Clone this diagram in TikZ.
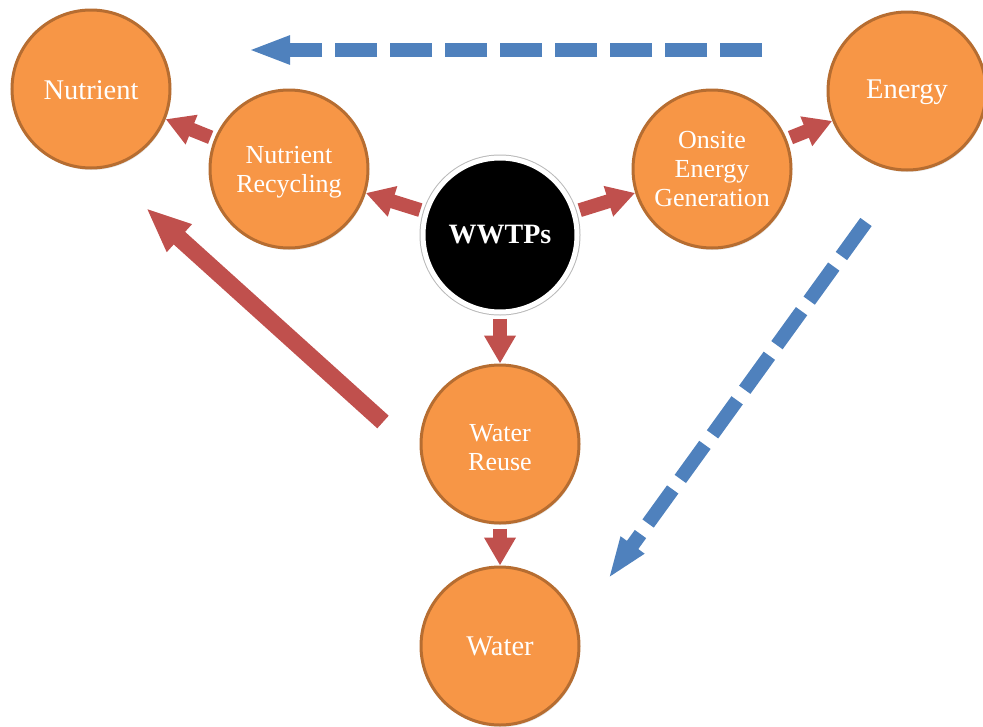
\documentclass[tikz,border=0pt]{standalone}
\usepackage{fontspec}
\setmainfont{Liberation Serif}
\usetikzlibrary{arrows.meta,shadows}
\definecolor{orfill}{HTML}{F79646}
\definecolor{ordraw}{HTML}{B66D31}
\definecolor{redarr}{HTML}{C0504D}
\definecolor{bluearr}{HTML}{4F81BD}
\begin{document}
\begin{tikzpicture}[x=1pt,y=-1pt,
 bubble/.style={circle, fill=orfill, draw=ordraw, line width=3pt, minimum size=158pt, inner sep=0pt, align=center, text=white, font=\fontsize{26}{29}\selectfont, drop shadow={opacity=0.2,shadow xshift=1pt,shadow yshift=-2pt}},
 bigbubble/.style={bubble, font=\fontsize{28.5}{32}\selectfont},
 hub/.style={circle, fill=black, draw=white, line width=5pt, minimum size=154pt, inner sep=0pt, text=white, font=\bfseries\fontsize{28}{32}\selectfont, preaction={draw=gray!55, line width=7pt}},
 redflow/.style={draw=redarr, line width=14pt, -{Triangle[length=28pt,width=30pt]}, shorten <=4pt},
 bigflow/.style={draw=redarr, line width=17pt, -{Triangle[length=45pt,width=34pt]}},
 blueflow/.style={draw=bluearr, line width=14pt, dash pattern=on 42pt off 13pt, -{Triangle[length=42pt,width=26pt]}}
]
\useasboundingbox (0,0) rectangle (983,726);
\node[bigbubble] (nut) at (91,89) {\rule{0pt}{22pt}Nutrient};
\node[bubble] (nrec) at (289,169) {\rule{0pt}{24pt}Nutrient\\Recycling};
\node[hub] (wwtp) at (500,235) {WWTPs};
\node[bubble] (oeg) at (712,169) {Onsite\\Energy\\Generation};
\node[bigbubble] (ene) at (907,91) {\rule{0pt}{22pt}Energy};
\node[bubble] (reuse) at (500,444) {\rule{0pt}{24pt}Water\\Reuse};
\node[bigbubble] (water) at (500,646) {Water};

\draw[redflow] (nrec) -- (nut);
\draw[redflow] (wwtp) -- (nrec);
\draw[redflow] (wwtp) -- (oeg);
\draw[redflow] (oeg) -- (ene);
\draw[redflow] (wwtp) -- (reuse);
\draw[redflow] (reuse) -- (water);

\coordinate (rt) at (383,422);
\coordinate (rh) at (146,208);
\draw[bigflow] (rt) -- (rh);

\coordinate (bt1) at (762,50);
\coordinate (bh1) at (248,50);
\draw[blueflow] (bt1) -- (bh1);

\coordinate (bt2) at (866,222);
\coordinate (bh2) at (608,579);
\draw[blueflow] (bt2) -- (bh2);
\end{tikzpicture}
\end{document}
